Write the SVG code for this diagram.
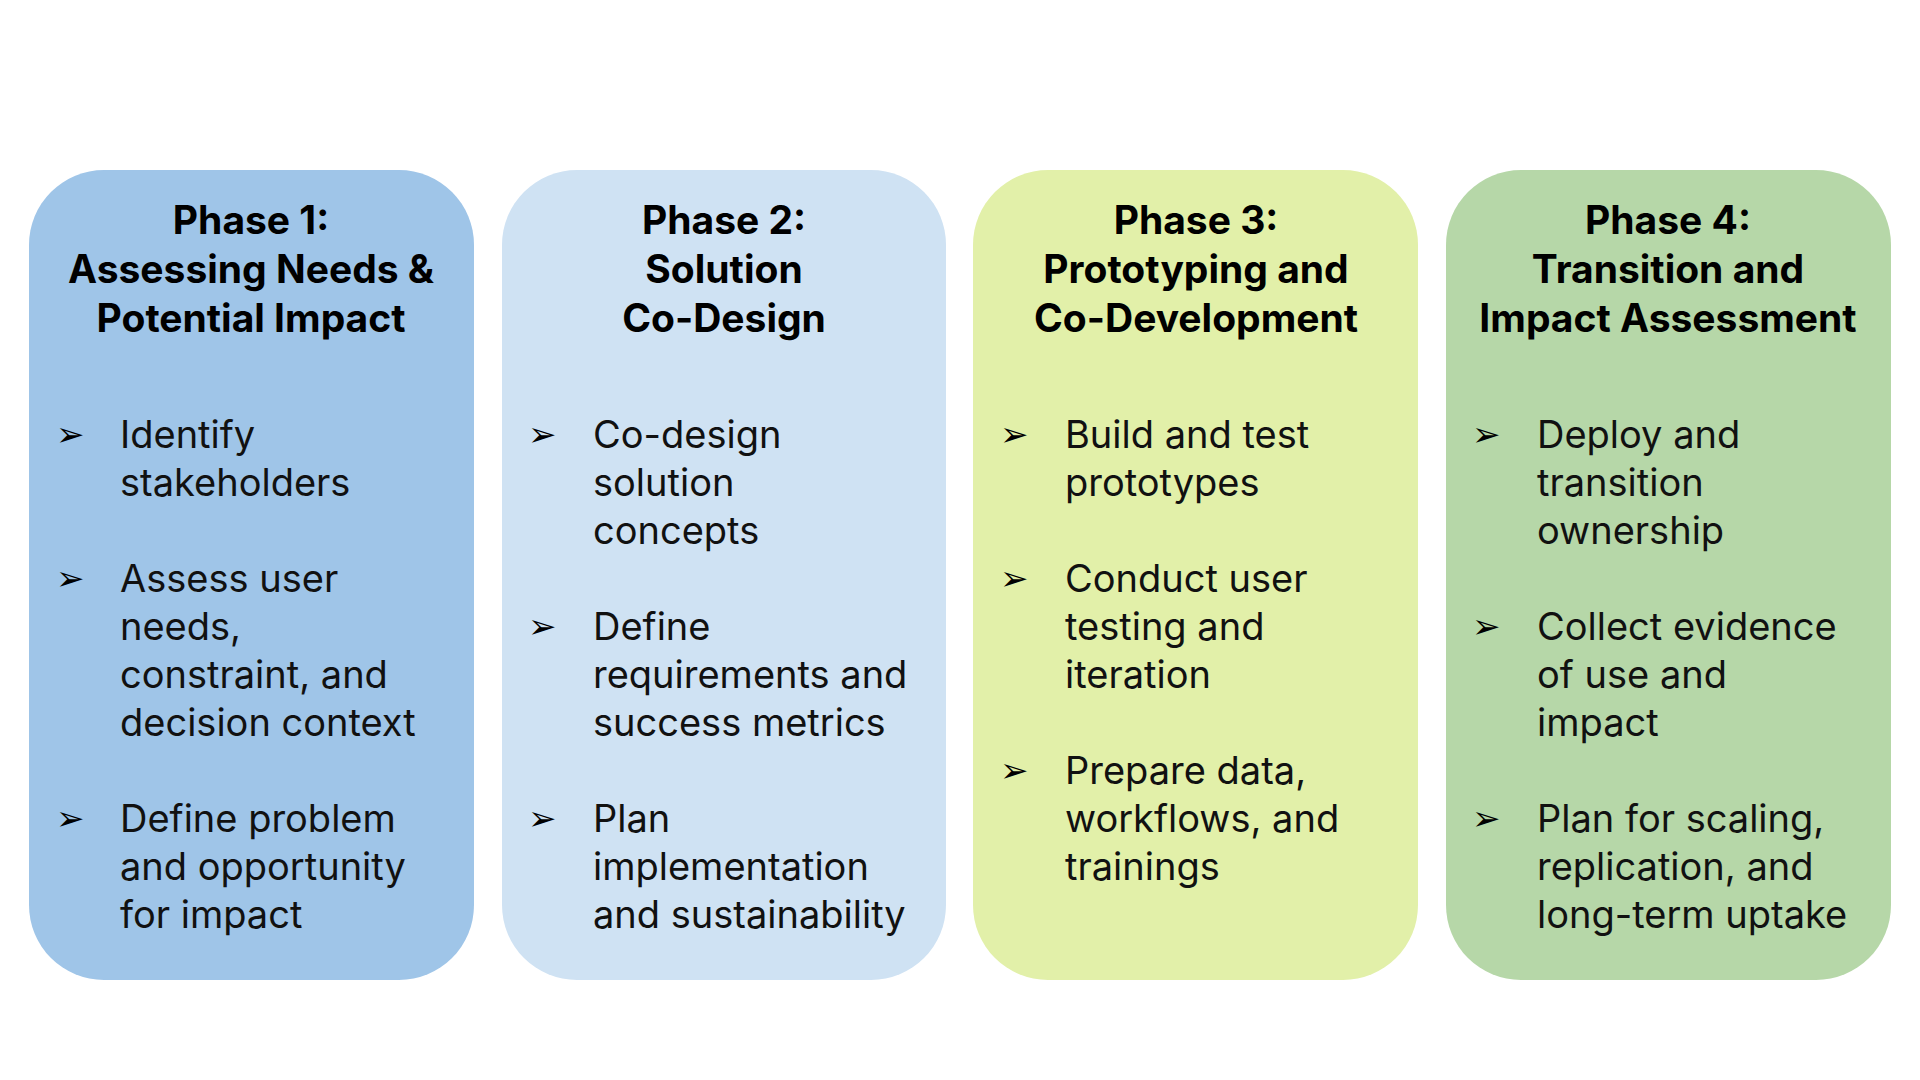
<svg xmlns="http://www.w3.org/2000/svg" width="1920" height="1080" viewBox="0 0 1920 1080">
<style>
.t{font-family:Inter,"Noto Sans",sans-serif;font-weight:700;font-size:39px;fill:#000;text-anchor:middle}
.b{font-family:Inter,"Noto Sans",sans-serif;font-size:38px;fill:#111}
.a{font-family:"DejaVu Sans",sans-serif;font-size:34px;fill:#000}
</style>
<rect width="1920" height="1080" fill="#fff"/>
<g id="phase1">
<rect x="29" y="170" width="445" height="810" rx="75" fill="#9fc5e8"/>
<text class="t" x="251" y="234">Phase 1:</text>
<text class="t" x="251" y="283">Assessing Needs &amp;</text>
<text class="t" x="251" y="332">Potential Impact</text>
<text class="a" x="56" y="446">➢</text><text class="a" x="56" y="590">➢</text><text class="a" x="56" y="830">➢</text>
<text class="b" x="120" y="448">Identify</text>
<text class="b" x="120" y="496">stakeholders</text>
<text class="b" x="120" y="592">Assess user</text>
<text class="b" x="120" y="640">needs,</text>
<text class="b" x="120" y="688">constraint, and</text>
<text class="b" x="120" y="736">decision context</text>
<text class="b" x="120" y="832">Define problem</text>
<text class="b" x="120" y="880">and opportunity</text>
<text class="b" x="120" y="928">for impact</text>
</g>
<g id="phase2">
<rect x="502" y="170" width="444" height="810" rx="75" fill="#cfe2f3"/>
<text class="t" x="724" y="234">Phase 2:</text>
<text class="t" x="724" y="283">Solution</text>
<text class="t" x="724" y="332">Co-Design</text>
<text class="a" x="528" y="446">➢</text><text class="a" x="528" y="638">➢</text><text class="a" x="528" y="830">➢</text>
<text class="b" x="593" y="448">Co-design</text>
<text class="b" x="593" y="496">solution</text>
<text class="b" x="593" y="544">concepts</text>
<text class="b" x="593" y="640">Define</text>
<text class="b" x="593" y="688">requirements and</text>
<text class="b" x="593" y="736">success metrics</text>
<text class="b" x="593" y="832">Plan</text>
<text class="b" x="593" y="880">implementation</text>
<text class="b" x="593" y="928">and sustainability</text>
</g>
<g id="phase3">
<rect x="973" y="170" width="445" height="810" rx="75" fill="#e2f0a9"/>
<text class="t" x="1196" y="234">Phase 3:</text>
<text class="t" x="1196" y="283">Prototyping and</text>
<text class="t" x="1196" y="332">Co-Development</text>
<text class="a" x="1000" y="446">➢</text><text class="a" x="1000" y="590">➢</text><text class="a" x="1000" y="782">➢</text>
<text class="b" x="1065" y="448">Build and test</text>
<text class="b" x="1065" y="496">prototypes</text>
<text class="b" x="1065" y="592">Conduct user</text>
<text class="b" x="1065" y="640">testing and</text>
<text class="b" x="1065" y="688">iteration</text>
<text class="b" x="1065" y="784">Prepare data,</text>
<text class="b" x="1065" y="832">workflows, and</text>
<text class="b" x="1065" y="880">trainings</text>
</g>
<g id="phase4">
<rect x="1446" y="170" width="445" height="810" rx="75" fill="#b6d7a8"/>
<text class="t" x="1668" y="234">Phase 4:</text>
<text class="t" x="1668" y="283">Transition and</text>
<text class="t" x="1668" y="332">Impact Assessment</text>
<text class="a" x="1472" y="446">➢</text><text class="a" x="1472" y="638">➢</text><text class="a" x="1472" y="830">➢</text>
<text class="b" x="1537" y="448">Deploy and</text>
<text class="b" x="1537" y="496">transition</text>
<text class="b" x="1537" y="544">ownership</text>
<text class="b" x="1537" y="640">Collect evidence</text>
<text class="b" x="1537" y="688">of use and</text>
<text class="b" x="1537" y="736">impact</text>
<text class="b" x="1537" y="832">Plan for scaling,</text>
<text class="b" x="1537" y="880">replication, and</text>
<text class="b" x="1537" y="928">long-term uptake</text>
</g>
<g id="connectors"/>
</svg>
